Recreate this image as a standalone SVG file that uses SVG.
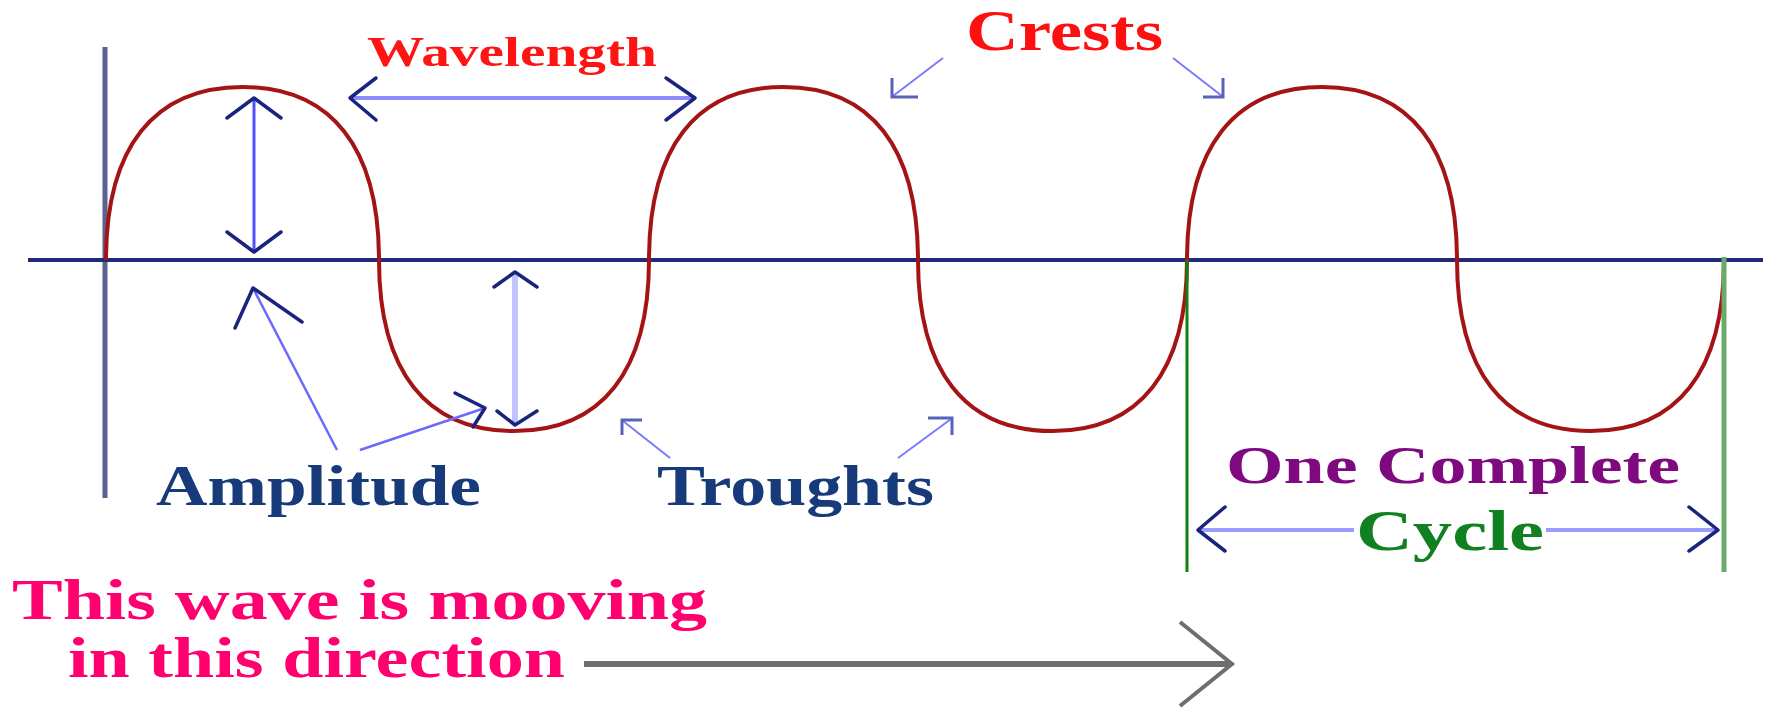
<svg xmlns="http://www.w3.org/2000/svg" width="1775" height="708" viewBox="0 0 1775 708">
<style>
text{font-family:"Liberation Serif","Times New Roman",serif;font-weight:bold}
.chev{fill:none;stroke:#1a237e;stroke-width:3.5;stroke-linecap:round;stroke-linejoin:round}
.lhead{fill:none;stroke:#5a62b8;stroke-width:3;stroke-linejoin:miter}
.ptr{stroke:#6a6aff;stroke-width:2.5;fill:none}
.thin{stroke:#7a7aff;stroke-width:2;fill:none}
</style>
<rect width="1775" height="708" fill="#ffffff"/>
<g id="axes">
<line x1="105" y1="47" x2="105" y2="498" stroke="#5a6290" stroke-width="5"/>
<line x1="28" y1="260" x2="1763" y2="260" stroke="#1f2a78" stroke-width="4"/>
</g>
<g id="wave">
<path d="M106,260 C106,147.5 153.8,87 242.5,87 C331.2,87 379,147.5 379,260 C379,371.2 426.3,431 514,431 C601.7,431 649,371.2 649,260 C649,147.5 696.1,87 783.5,87 C870.9,87 918,147.5 918,260 C918,371.2 965.1,431 1052.5,431 C1139.9,431 1187,371.2 1187,260 C1187,147.5 1234.3,87 1322,87 C1409.7,87 1457,147.5 1457,260 C1457,371.2 1503.7,431 1590.5,431 C1677.3,431 1724,371.2 1724,260" fill="none" stroke="#a51414" stroke-width="4"/>
</g>
<g id="cycle-bounds">
<line x1="1187" y1="260" x2="1187" y2="572" stroke="#108010" stroke-width="3"/>
<line x1="1724" y1="257" x2="1724" y2="572" stroke="#6aaa6a" stroke-width="5"/>
</g>
<g id="connectors">
<line x1="254" y1="100" x2="254" y2="250" stroke="#5050ff" stroke-width="3"/>
<polyline class="chev" points="227,118 254,98 281,118"/>
<polyline class="chev" points="227,232 254,252 281,232"/>
<line x1="515" y1="274" x2="515" y2="423" stroke="#c0c4ff" stroke-width="6"/>
<polyline class="chev" points="494,287 515,272 537,287"/>
<polyline class="chev" points="497,411 515,425 537,411"/>
<line x1="351" y1="98" x2="694" y2="98" stroke="#8c8cff" stroke-width="4"/>
<polyline class="chev" points="376,78 350,98 376,120"/>
<polyline class="chev" points="666,78 695,98 666,120"/>
<line class="thin" x1="943" y1="58" x2="893" y2="96"/>
<polyline class="lhead" points="892,78 892,97 918,97"/>
<line class="thin" x1="1173" y1="58" x2="1222" y2="96"/>
<polyline class="lhead" points="1223,78 1223,97 1203,97"/>
<line class="ptr" x1="337" y1="450" x2="254" y2="290"/>
<polyline class="chev" points="235,328 253,288 302,322"/>
<line class="ptr" x1="360" y1="450" x2="482" y2="409"/>
<polyline class="chev" points="455,393 485,408 473,427"/>
<line class="thin" x1="670" y1="458" x2="623" y2="421"/>
<polyline class="lhead" points="622,435 622,420 642,420"/>
<line class="thin" x1="898" y1="458" x2="951" y2="419"/>
<polyline class="lhead" points="928,418 952,418 952,435"/>
<line x1="1199" y1="530" x2="1354" y2="530" stroke="#9a9cff" stroke-width="4"/>
<line x1="1546" y1="530" x2="1717" y2="530" stroke="#9a9cff" stroke-width="4"/>
<polyline class="chev" points="1225,507 1198,530 1225,551"/>
<polyline class="chev" points="1689,507 1718,530 1689,551"/>
<line x1="584" y1="664" x2="1230" y2="664" stroke="#6e6e6e" stroke-width="6"/>
<polyline points="1180,622 1232,664 1180,706" fill="none" stroke="#6e6e6e" stroke-width="4"/>
</g>
<g id="label-wavelength"><text x="367" y="66" font-size="42" fill="#ff1414" textLength="290" lengthAdjust="spacingAndGlyphs">Wavelength</text></g>
<g id="label-crests"><text x="966" y="50" font-size="56" fill="#ff1010" textLength="197" lengthAdjust="spacingAndGlyphs">Crests</text></g>
<g id="label-amplitude"><text x="156" y="505" font-size="56" fill="#173a7a" textLength="325" lengthAdjust="spacingAndGlyphs">Amplitude</text></g>
<g id="label-troughts"><text x="657" y="505" font-size="58" fill="#173a7a" textLength="277" lengthAdjust="spacingAndGlyphs">Troughts</text></g>
<g id="label-one-complete"><text x="1226" y="483" font-size="53" fill="#7f0a80" textLength="454" lengthAdjust="spacingAndGlyphs">One Complete</text></g>
<g id="label-cycle"><text x="1356" y="550" font-size="56" fill="#108020" textLength="188" lengthAdjust="spacingAndGlyphs">Cycle</text></g>
<g id="label-direction">
<text x="12" y="619" font-size="56" fill="#ff006e" textLength="695" lengthAdjust="spacingAndGlyphs">This wave is mooving</text>
<text x="68" y="677" font-size="56" fill="#ff006e" textLength="497" lengthAdjust="spacingAndGlyphs">in this direction</text>
</g>
</svg>
